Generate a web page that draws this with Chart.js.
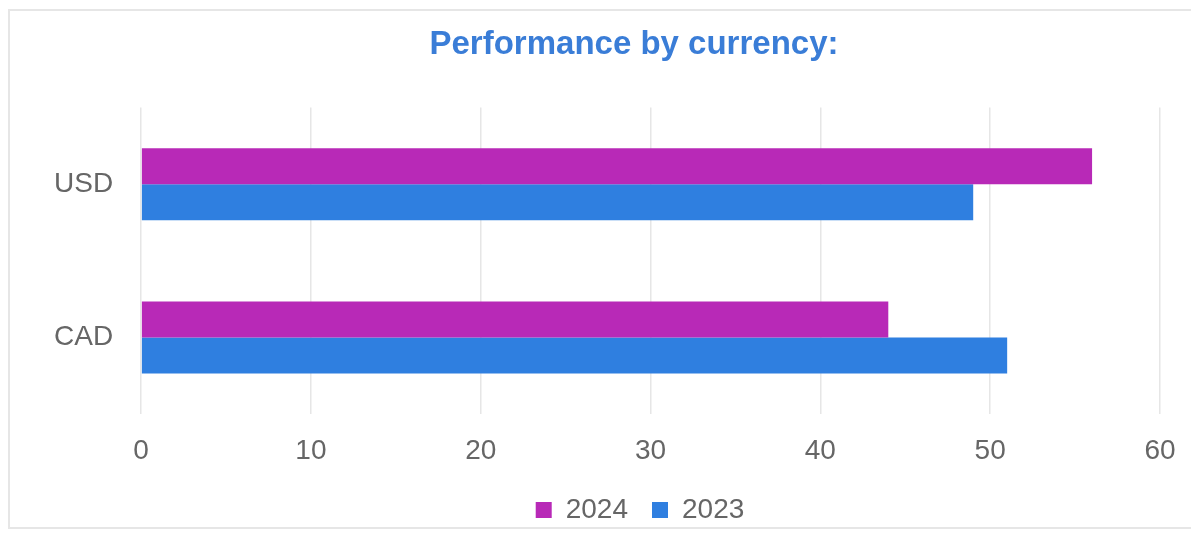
<!DOCTYPE html>
<html>
<head>
<meta charset="utf-8">
<script src="https://cdn.jsdelivr.net/npm/chart.js@4/dist/chart.umd.min.js"></script>
<style>
  html, body { margin: 0; padding: 0; background: #ffffff; }
  #wrap { position: relative; width: 1191px; height: 539px; overflow: hidden; }
  #frame { position: absolute; left: 8px; top: 9px; width: 1200px; height: 520px;
           border: 2px solid #e6e6e6; box-sizing: border-box; }
  #c { position: absolute; left: 0; top: 0; }
</style>
</head>
<body>
<div id="wrap">
  <div id="frame"></div>
  <canvas id="c" width="1191" height="539"></canvas>
</div>
<script>
const categories = ['USD', 'CAD'];
const seriesNames = ['2024', '2023'];
const values2024 = [56, 44];
const values2023 = [49, 51];
const xTicks = [0, 10, 20, 30, 40, 50, 60];

const FONT = "'Liberation Sans', Arial, sans-serif";
const GRAY = '#666666';

// Centre the title and legend on given x positions instead of the full-width box
const recentre = {
  id: 'recentre',
  afterLayout(chart, args, opts) {
    const move = (box, cx) => {
      if (!box || cx == null) return;
      const d = cx - (box.left + box.right) / 2;
      box.left += d;
      box.right += d;
    };
    move(chart.titleBlock, opts.title);
    move(chart.legend, opts.legend);
  }
};

new Chart(document.getElementById('c'), {
  type: 'bar',
  data: {
    labels: categories,
    datasets: [
      { label: seriesNames[0], data: values2024, backgroundColor: '#b829b7', borderWidth: 0,
        categoryPercentage: 0.47, barPercentage: 1.0 },
      { label: seriesNames[1], data: values2023, backgroundColor: '#2f7fe0', borderWidth: 0,
        categoryPercentage: 0.47, barPercentage: 1.0 }
    ]
  },
  plugins: [recentre],
  options: {
    indexAxis: 'y',
    responsive: false,
    animation: false,
    layout: { padding: { left: 26, right: 26, top: 10, bottom: 5 } },
    scales: {
      x: {
        min: xTicks[0],
        max: xTicks[xTicks.length - 1],
        afterBuildTicks: (scale) => { scale.ticks = xTicks.map(v => ({ value: v })); },
        afterFit: (scale) => { scale.height = 58; scale.paddingRight = 31; },
        grid: { color: '#e6e6e6', lineWidth: 1.5, drawTicks: false },
        border: { display: false },
        ticks: { color: GRAY, font: { family: FONT, size: 28 }, padding: 20 }
      },
      y: {
        grid: { display: false, drawTicks: false },
        border: { display: false },
        ticks: { color: GRAY, font: { family: FONT, size: 28 }, padding: 28 }
      }
    },
    plugins: {
      recentre: { title: 634, legend: 640 },
      title: {
        display: true,
        text: 'Performance by currency:',
        color: '#3a7dd7',
        font: { family: FONT, size: 33, weight: 'bold' },
        padding: { top: 15, bottom: 43 }
      },
      legend: {
        position: 'bottom',
        labels: {
          color: GRAY,
          font: { family: FONT, size: 28 },
          boxWidth: 16,
          boxHeight: 16,
          padding: 24
        }
      },
      tooltip: { enabled: false }
    }
  }
});
</script>
</body>
</html>
